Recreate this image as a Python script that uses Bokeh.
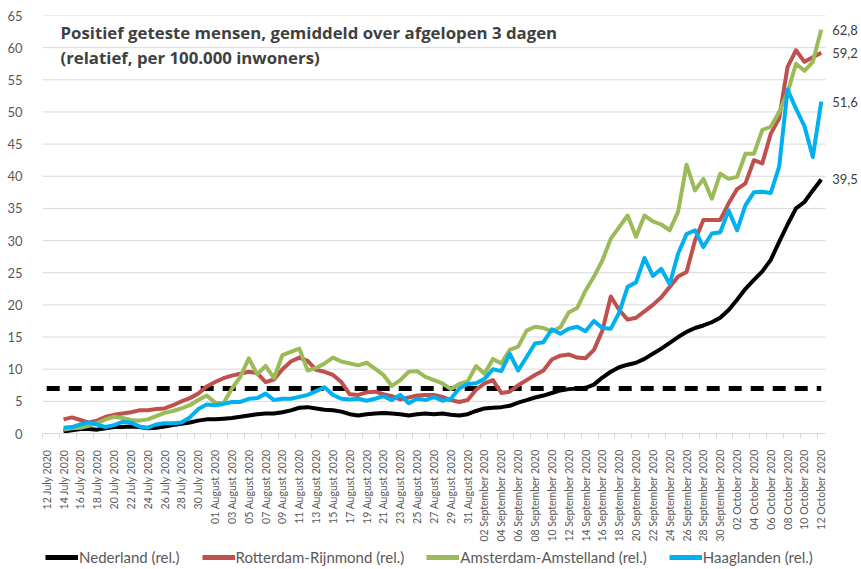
import math
import pandas as pd
from bokeh.plotting import figure
from bokeh.layouts import column
from bokeh.models import (Range1d, FixedTicker, Legend, LegendItem, Label)
from bokeh.embed import file_html
from bokeh.resources import INLINE
from bokeh.core.properties import value

# ---------------- data ----------------
axis_dates = pd.date_range("2020-07-12", "2020-10-12", freq="D")
tick_dates = axis_dates[::2]
tick_labels = [d.strftime("%d %B %Y") for d in tick_dates]
series_dates = pd.date_range("2020-07-14", "2020-10-12", freq="D")

nederland = [
    0.3, 0.5, 0.7, 0.7, 0.6, 0.8, 1.0, 1.0, 1.1,
    1.0, 0.8, 0.9, 1.1, 1.3, 1.5, 1.7, 2.0, 2.2, 2.2,
    2.3, 2.4, 2.6, 2.8, 3.0, 3.1, 3.1, 3.3, 3.6, 4.0,
    4.1, 3.9, 3.7, 3.6, 3.4, 3.0, 2.8, 3.0, 3.1, 3.2,
    3.1, 3.0, 2.8, 3.0, 3.1, 3.0, 3.1, 2.9, 2.8, 3.0,
    3.5, 3.9, 4.0, 4.1, 4.3, 4.8, 5.2, 5.6, 5.9, 6.3,
    6.7, 6.9, 7.0, 7.1, 7.6, 8.7, 9.6, 10.3, 10.7, 11.0,
    11.6, 12.4, 13.2, 14.1, 15.0, 15.8, 16.4, 16.8, 17.3, 18.0,
    19.2, 20.8, 22.5, 23.9, 25.2, 27.0, 29.8, 32.5, 35.0, 36.0,
    37.8, 39.5]

rotterdam = [
    2.2, 2.5, 2.1, 1.7, 2.0, 2.6, 2.9, 3.1, 3.3,
    3.6, 3.6, 3.8, 3.9, 4.4, 5.0, 5.5, 6.2, 7.3, 8.0,
    8.6, 9.0, 9.3, 9.6, 9.4, 8.0, 8.4, 10.0, 11.2, 11.8,
    11.3, 9.9, 9.6, 9.1, 8.0, 6.1, 6.0, 6.4, 6.5, 6.1,
    5.8, 5.3, 5.6, 5.9, 6.0, 6.0, 5.7, 5.2, 4.9, 5.2,
    6.8, 7.8, 8.3, 6.3, 6.5, 7.5, 8.3, 9.1, 9.8, 11.5,
    12.1, 12.3, 11.8, 11.7, 13.0, 16.0, 21.3, 19.2, 17.7, 18.0,
    19.0, 20.0, 21.2, 22.8, 24.4, 25.1, 30.0, 33.2, 33.2, 33.2,
    35.8, 38.0, 38.9, 42.5, 42.0, 46.6, 49.0, 57.0, 59.6, 57.8,
    58.5, 59.2]

amsterdam = [
    0.6, 0.8, 0.9, 1.2, 1.6, 2.2, 2.6, 2.4, 2.1,
    2.0, 2.2, 2.7, 3.2, 3.5, 3.9, 4.4, 5.2, 5.9, 4.8,
    4.7, 7.0, 8.8, 11.7, 9.2, 10.5, 8.6, 12.2, 12.7, 13.2,
    9.8, 10.2, 10.9, 11.8, 11.2, 10.9, 10.6, 11.0, 10.1, 9.1,
    7.4, 8.3, 9.6, 9.7, 8.8, 8.3, 7.8, 6.9, 7.7, 8.1,
    10.5, 9.3, 11.6, 10.9, 13.0, 13.5, 16.0, 16.6, 16.4, 15.9,
    16.5, 18.8, 19.5, 22.2, 24.4, 26.9, 30.3, 32.1, 33.9, 30.6,
    33.9, 33.0, 32.5, 31.6, 34.5, 41.8, 37.8, 39.6, 36.5, 40.4,
    39.6, 39.9, 43.5, 43.5, 47.2, 47.7, 50.0, 53.0, 57.5, 56.4,
    57.8, 62.8]

haaglanden = [
    0.9, 1.0, 1.4, 1.7, 1.4, 1.0, 1.3, 1.8, 1.7,
    1.1, 0.9, 1.4, 1.6, 1.6, 1.7, 2.5, 3.8, 4.5, 4.4,
    4.6, 4.9, 4.9, 5.4, 5.5, 6.2, 5.2, 5.4, 5.4, 5.7,
    6.0, 6.6, 7.2, 6.0, 5.4, 5.3, 5.4, 5.1, 5.4, 5.8,
    5.2, 6.0, 4.7, 5.4, 5.2, 5.7, 5.1, 5.4, 7.0, 7.7,
    7.8, 8.5, 10.0, 9.7, 12.4, 9.8, 11.9, 14.0, 14.2, 16.2,
    15.5, 16.3, 16.6, 15.9, 17.5, 16.4, 16.3, 18.8, 22.8, 23.5,
    27.3, 24.5, 25.6, 23.2, 28.0, 31.0, 31.6, 29.0, 31.1, 31.3,
    34.7, 31.6, 35.5, 37.5, 37.6, 37.4, 41.5, 53.5, 50.5, 47.8,
    43.0, 51.6]

threshold = 7.0

series_names = ["Nederland (rel.)", "Rotterdam-Rijnmond (rel.)",
                "Amsterdam-Amstelland (rel.)", "Haaglanden (rel.)"]
series_values = [nederland, rotterdam, amsterdam, haaglanden]
series_colors = ["#000000", "#C0504D", "#9BBB59", "#00B0F0"]

title_lines = ["Positief geteste mensen, gemiddeld over afgelopen 3 dagen",
               "(relatief, per 100.000 inwoners)"]

y_ticks = list(range(0, 66, 5))

# ---------------- main figure ----------------
FONT = "Lato"
axis_x = [(d - axis_dates[0]).days for d in axis_dates]
series_x = [(d - axis_dates[0]).days for d in series_dates]
tick_x = [(d - axis_dates[0]).days for d in tick_dates]
x_lo, x_hi = axis_x[0] - 0.5, axis_x[-1] + 0.5

p = figure(frame_width=819, frame_height=418, output_backend="svg",
           toolbar_location=None,
           x_range=Range1d(x_lo, x_hi + 4.28), y_range=Range1d(0, 65),
           min_border_left=42, min_border_right=0, min_border_top=15,
           min_border_bottom=112, title=None)
p.outline_line_color = None
p.background_fill_color = "white"
p.border_fill_color = "white"

# y axis
p.yaxis.ticker = FixedTicker(ticks=y_ticks)
p.yaxis.axis_line_color = None
p.yaxis.major_tick_line_color = None
p.yaxis.minor_tick_line_color = None
p.yaxis.major_label_text_font = FONT
p.yaxis.major_label_text_font_size = "13px"
p.yaxis.major_label_text_color = "#595959"
p.yaxis.major_label_standoff = 14
p.xgrid.visible = False
p.ygrid.visible = False
# horizontal grid lines limited to the date span
p.segment(x0=[x_lo] * len(y_ticks), x1=[x_hi] * len(y_ticks), y0=y_ticks,
          y1=y_ticks, line_color="#d9d9d9", line_width=1)

# x axis
p.xaxis.ticker = FixedTicker(ticks=tick_x, minor_ticks=[t - 0.5 for t in tick_x])
p.xaxis.bounds = (x_lo, x_hi)
p.xaxis.major_label_overrides = {t: lab for t, lab in zip(tick_x, tick_labels)}
p.xaxis.major_label_orientation = math.pi / 2
p.xaxis.axis_line_color = "#d9d9d9"
p.xaxis.major_tick_line_color = None
p.xaxis.minor_tick_line_color = "#d9d9d9"
p.xaxis.minor_tick_in = 0
p.xaxis.minor_tick_out = 5
p.xaxis.major_label_text_font = FONT
p.xaxis.major_label_text_font_size = "10.5px"
p.xaxis.major_label_text_color = "#595959"
p.xaxis.major_label_standoff = 10

# threshold line
p.line(axis_x, [threshold] * len(axis_x), line_color="black", line_width=5,
       line_dash="13 9")

for vals, col in zip(series_values, series_colors):
    p.line(series_x, vals, line_color=col, line_width=4, line_join="round")

# title inside plot
for txt, yv in zip(title_lines, [62.4, 58.45]):
    p.add_layout(Label(x=1.64, y=yv, text=txt, text_font="Open Sans",
                       text_font_style="bold", text_font_size="16.8px",
                       text_color="#404040", text_baseline="alphabetic"))

# end-value labels
p.text(x=[series_x[-1]] * 4, y=[v[-1] for v in series_values],
       text=[f"{v[-1]:.1f}".replace(".", ",") for v in series_values],
       x_offset=11, text_baseline="middle", text_font=value(FONT),
       text_font_size="13px", text_color="#404040")

# ---------------- legend strip ----------------
pl = figure(width=861, height=24, output_backend="svg", toolbar_location=None,
            x_axis_type=None, y_axis_type=None, min_border=0, title=None,
            x_range=Range1d(x_lo, x_hi), y_range=Range1d(1000, 1001))
pl.outline_line_color = None
pl.xgrid.visible = False
pl.ygrid.visible = False
# the same series, kept out of view: only their legend swatches show
leg_renderers = [pl.line(series_x, vals, line_color=col, line_width=5)
                 for vals, col in zip(series_values, series_colors)]
legend = Legend(items=[LegendItem(label=n, renderers=[r])
                       for n, r in zip(series_names, leg_renderers)],
                orientation="horizontal", location=(3, 3),
                glyph_width=33, glyph_height=14, label_height=14,
                label_standoff=1, spacing=22, padding=0, margin=0,
                border_line_color=None, background_fill_alpha=0,
                label_text_font=FONT, label_text_font_size="15px",
                label_text_color="#595959")
pl.add_layout(legend, "center")

layout = column(p, pl, spacing=0)
open("out.html", "w").write(file_html(layout, INLINE))
